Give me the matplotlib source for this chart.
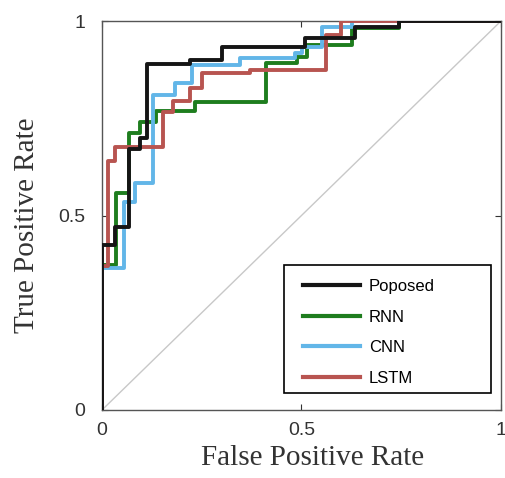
import numpy as np
import matplotlib.pyplot as plt
from matplotlib.patches import Rectangle

# ROC vertices (fpr, tpr)
fpr_proposed = [0, 0, 0.033, 0.033, 0.068, 0.068, 0.095, 0.095, 0.113, 0.113, 0.22, 0.22,
                0.30, 0.30, 0.509, 0.509, 0.634, 0.634, 0.744, 0.744, 1]
tpr_proposed = [0, 0.424, 0.424, 0.47, 0.47, 0.67, 0.67, 0.70, 0.70, 0.89, 0.89, 0.90,
                0.90, 0.933, 0.933, 0.956, 0.956, 0.985, 0.985, 1, 1]

fpr_rnn = [0, 0, 0.035, 0.035, 0.068, 0.068, 0.095, 0.095, 0.136, 0.136, 0.233, 0.233,
           0.41, 0.41, 0.489, 0.489, 0.514, 0.514, 0.627, 0.627, 0.744, 0.744, 1]
tpr_rnn = [0, 0.373, 0.373, 0.558, 0.558, 0.712, 0.712, 0.74, 0.74, 0.768, 0.768, 0.793,
           0.793, 0.892, 0.892, 0.907, 0.907, 0.938, 0.938, 0.982, 0.982, 1, 1]

fpr_cnn = [0, 0, 0.055, 0.055, 0.083, 0.083, 0.128, 0.128, 0.183, 0.183, 0.226, 0.226,
           0.346, 0.346, 0.484, 0.484, 0.501, 0.501, 0.551, 0.551, 0.627, 0.627, 1]
tpr_cnn = [0, 0.365, 0.365, 0.535, 0.535, 0.584, 0.584, 0.81, 0.81, 0.84, 0.84, 0.887,
           0.887, 0.905, 0.905, 0.918, 0.918, 0.933, 0.933, 0.985, 0.985, 1, 1]

fpr_lstm = [0, 0, 0.015, 0.015, 0.033, 0.033, 0.153, 0.153, 0.178, 0.178, 0.22, 0.22,
            0.25, 0.25, 0.371, 0.371, 0.561, 0.561, 0.60, 0.60, 1]
tpr_lstm = [0, 0.37, 0.37, 0.64, 0.64, 0.676, 0.676, 0.766, 0.766, 0.794, 0.794, 0.828,
            0.828, 0.866, 0.866, 0.874, 0.874, 0.965, 0.965, 1, 1]

ticks = [0, 0.5, 1]
tick_labels = ["0", "0.5", "1"]

fig = plt.figure(figsize=(5.05, 4.78), dpi=100)
ax = fig.add_axes([0.202, 0.1423, 0.79, 0.8137])

# chance line
ax.plot([0, 1], [0, 1], color="#c8c8c8", lw=1, zorder=1)

lw = 2.8
l1, = ax.plot(fpr_proposed, tpr_proposed, color="#151515", lw=lw, zorder=6, label="Poposed")
l2, = ax.plot(fpr_rnn, tpr_rnn, color="#1e7d1e", lw=lw, zorder=3, label="RNN")
l3, = ax.plot(fpr_cnn, tpr_cnn, color="#62b6e8", lw=lw, zorder=4, label="CNN")
l4, = ax.plot(fpr_lstm, tpr_lstm, color="#b85450", lw=lw, zorder=5, label="LSTM")

ax.set_xlim(0, 1)
ax.set_ylim(0, 1)
ax.set_xticks(ticks)
ax.set_xticklabels(tick_labels)
ax.set_yticks(ticks)
ax.set_yticklabels(tick_labels)
ax.tick_params(direction="in", length=4, width=0.8, top=True, right=True,
               labelsize=14, colors="#333333")
ax.tick_params(axis="x", pad=9)
ax.tick_params(axis="y", pad=12)
for lab in ax.get_xticklabels() + ax.get_yticklabels():
    lab.set_fontfamily("Liberation Sans")
for s in ax.spines.values():
    s.set_color("#555555")
    s.set_linewidth(1.0)

ax.set_xlabel("False Positive Rate", fontfamily="Liberation Serif", fontsize=21,
              color="#333333")
ax.set_ylabel("True Positive Rate", fontfamily="Liberation Serif", fontsize=21,
              color="#333333")
ax.xaxis.set_label_coords(0.529, -0.09)
ax.yaxis.set_label_coords(-0.155, 0.476)

# legend frame drawn as its own box, legend entries placed inside it
ax.add_patch(Rectangle((0.456, 0.044), 0.519, 0.329, transform=ax.transAxes,
                       facecolor="white", edgecolor="black", lw=1.2, zorder=7))
leg = ax.legend(handles=[l1, l2, l3, l4], loc="upper left",
                bbox_to_anchor=(0.504, 0.337), frameon=False,
                prop={"family": "Liberation Sans", "size": 12},
                handlelength=3.4, handletextpad=0.55, labelspacing=0.94,
                borderpad=0, borderaxespad=0)
leg.set_zorder(8)
for h in leg.get_lines():
    h.set_linewidth(3.0)

fig.savefig("out.png", dpi=100)
